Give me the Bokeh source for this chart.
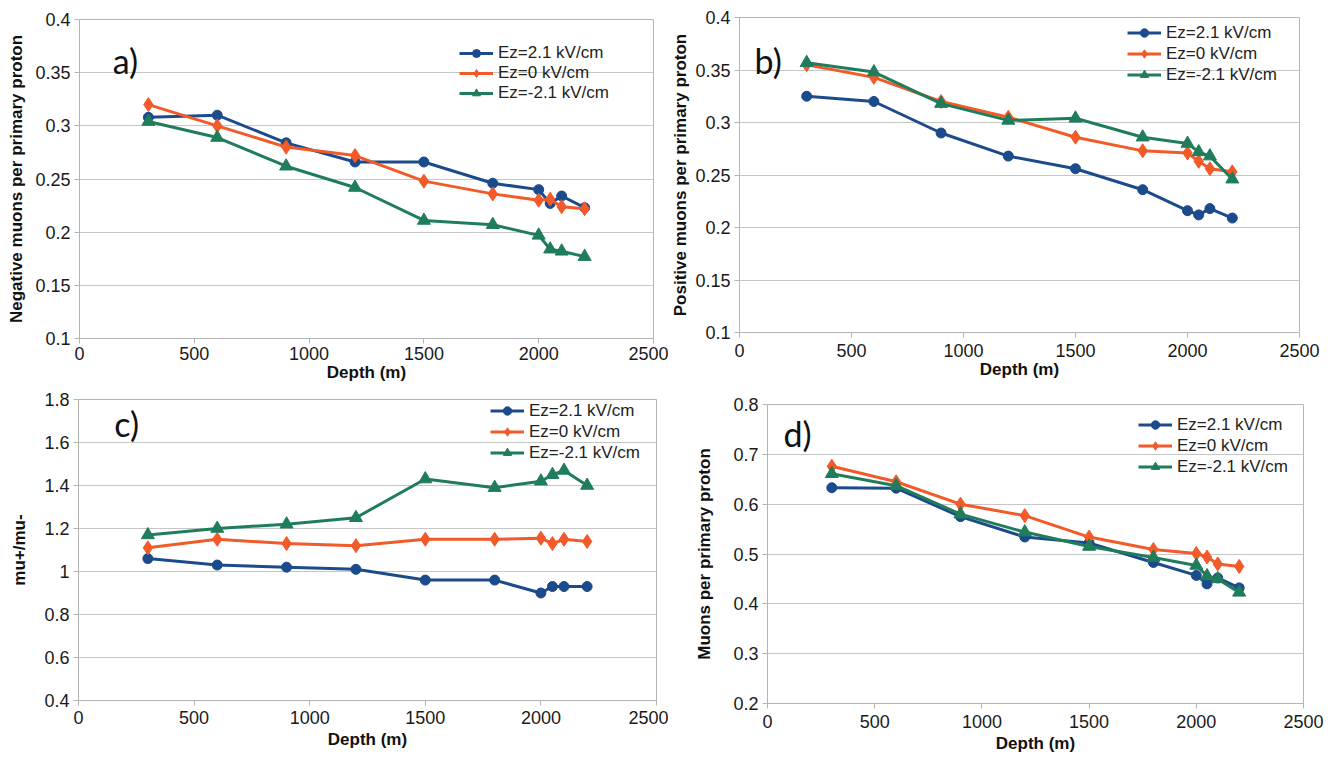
from bokeh.plotting import figure
from bokeh.layouts import column, row
from bokeh.models import (FixedTicker, CustomJSTickFormatter, Legend, LegendItem,
                          Label, Range1d, ColumnDataSource)
from bokeh.embed import file_html
from bokeh.resources import INLINE

# ---------------- data ----------------
depth = [300, 600, 900, 1200, 1500, 1800, 2000, 2050, 2100, 2200]
series_labels = ["Ez=2.1 kV/cm", "Ez=0 kV/cm", "Ez=-2.1 kV/cm"]
x_ticks = [0, 500, 1000, 1500, 2000, 2500]

# a) negative muons per primary proton
neg_ez_pos = [0.308, 0.310, 0.284, 0.266, 0.266, 0.246, 0.240, 0.227, 0.234, 0.223]
neg_ez_zero = [0.320, 0.300, 0.280, 0.272, 0.248, 0.236, 0.230, 0.231, 0.224, 0.222]
neg_ez_neg = [0.304, 0.289, 0.262, 0.242, 0.211, 0.207, 0.197, 0.184, 0.182, 0.177]
neg_ticks = [0.1, 0.15, 0.2, 0.25, 0.3, 0.35, 0.4]

# b) positive muons per primary proton
pos_ez_pos = [0.325, 0.320, 0.290, 0.268, 0.256, 0.236, 0.216, 0.212, 0.218, 0.209]
pos_ez_zero = [0.355, 0.343, 0.320, 0.305, 0.286, 0.273, 0.271, 0.263, 0.256, 0.253]
pos_ez_neg = [0.357, 0.348, 0.318, 0.302, 0.304, 0.286, 0.280, 0.272, 0.268, 0.246]
pos_ticks = [0.1, 0.15, 0.2, 0.25, 0.3, 0.35, 0.4]

# c) mu+/mu- ratio
ratio_ez_pos = [1.06, 1.03, 1.02, 1.01, 0.96, 0.96, 0.90, 0.93, 0.93, 0.93]
ratio_ez_zero = [1.11, 1.15, 1.13, 1.12, 1.15, 1.15, 1.155, 1.13, 1.15, 1.14]
ratio_ez_neg = [1.17, 1.20, 1.22, 1.25, 1.43, 1.39, 1.42, 1.45, 1.47, 1.40]
ratio_ticks = [0.4, 0.6, 0.8, 1.0, 1.2, 1.4, 1.6, 1.8]

# d) all muons per primary proton
tot_ez_pos = [0.633, 0.632, 0.575, 0.534, 0.522, 0.483, 0.457, 0.440, 0.452, 0.432]
tot_ez_zero = [0.676, 0.645, 0.600, 0.577, 0.534, 0.509, 0.501, 0.494, 0.480, 0.475]
tot_ez_neg = [0.661, 0.637, 0.580, 0.544, 0.515, 0.493, 0.477, 0.456, 0.450, 0.423]
tot_ticks = [0.2, 0.3, 0.4, 0.5, 0.6, 0.7, 0.8]

# ---------------- style ----------------
COLORS = ["#1c4b8c", "#f25a29", "#1f7d5c"]
MARKERS = ["circle", "diamond", "triangle"]
MSIZES = [10, 14, 13]
GRID = "#c6c6c6"
AXIS = "#b4b4b4"
FONT = "Liberation Sans"


def make_panel(series, ylabel, yticks, letter, w, h, borders, letter_pos,
               leg_loc, leg_h, y_std, x_std, x_lab_std):
    left, right, top, bottom = borders
    p = figure(width=w, height=h, output_backend="svg", toolbar_location=None,
               x_range=Range1d(0, 2500), y_range=Range1d(yticks[0], yticks[-1]))
    p.min_border_left = left
    p.min_border_right = right
    p.min_border_top = top
    p.min_border_bottom = bottom
    p.background_fill_color = "white"
    p.border_fill_color = "white"
    p.outline_line_color = AXIS
    p.outline_line_width = 1

    p.xgrid.visible = False
    p.ygrid.grid_line_color = GRID
    p.ygrid.grid_line_width = 1
    p.ygrid.ticker = FixedTicker(ticks=yticks)

    p.xaxis.ticker = FixedTicker(ticks=x_ticks)
    p.yaxis.ticker = FixedTicker(ticks=yticks)
    p.yaxis.formatter = CustomJSTickFormatter(
        code="return (Math.round(tick*100)/100).toString();")
    p.xaxis.formatter = CustomJSTickFormatter(code="return Math.round(tick).toString();")
    for ax in (p.xaxis[0], p.yaxis[0]):
        ax.axis_line_color = AXIS
        ax.major_tick_line_color = AXIS
        ax.major_tick_out = 5
        ax.major_tick_in = 0
        ax.minor_tick_line_color = None
        ax.major_label_text_font = FONT
        ax.major_label_text_font_size = "18px"
        ax.major_label_text_color = "#1a1a1a"
        ax.axis_label_text_font = FONT
        ax.axis_label_text_font_style = "bold"
        ax.axis_label_text_font_size = "17px"
        ax.axis_label_text_color = "#111111"
    p.xaxis.major_label_standoff = x_lab_std
    p.yaxis.major_label_standoff = 4
    p.xaxis.axis_label = "Depth (m)"
    p.yaxis.axis_label = ylabel
    p.xaxis.axis_label_standoff = x_std
    p.yaxis.axis_label_standoff = y_std

    items = []
    for vals, lab, col, mk, ms in zip(series, series_labels, COLORS, MARKERS, MSIZES):
        src = ColumnDataSource(dict(x=depth, y=vals))
        lr = p.line("x", "y", source=src, line_color=col, line_width=3)
        mr = p.scatter("x", "y", source=src, marker=mk, size=ms,
                       fill_color=col, line_color=col)
        items.append(LegendItem(label=lab, renderers=[lr, mr]))

    leg = Legend(items=items, location=leg_loc)
    leg.background_fill_alpha = 0
    leg.border_line_alpha = 0
    leg.padding = 0
    leg.margin = 0
    leg.spacing = 0
    leg.glyph_width = 34
    leg.glyph_height = leg_h
    leg.label_height = leg_h
    leg.label_standoff = 5
    leg.label_text_font = FONT
    leg.label_text_font_size = "17px"
    leg.label_text_color = "#222222"
    p.add_layout(leg, "center")

    p.add_layout(Label(x=letter_pos[0], y=letter_pos[1], text=letter,
                       text_font="Lato", text_font_size="34px",
                       text_align="center", text_baseline="middle",
                       text_color="#111111"))
    return p


pa = make_panel([neg_ez_pos, neg_ez_zero, neg_ez_neg],
                "Negative muons per primary proton", neg_ticks, "a)",
                668, 389, (79, 15, 19, 51), (200, 0.361), (380, 235), 20, 6, 0, 3)
pb = make_panel([pos_ez_pos, pos_ez_zero, pos_ez_neg],
                "Positive muons per primary proton", pos_ticks, "b)",
                668, 389, (67, 37, 17, 57), (128, 0.359), (388, 247), 21, 2, 0, 6)
pc = make_panel([ratio_ez_pos, ratio_ez_zero, ratio_ez_neg],
                "mu+/mu-", ratio_ticks, "c)",
                668, 368, (78, 12, 10, 57), (208, 1.688), (412, 237), 21, 12, 3, 5)
pd = make_panel([tot_ez_pos, tot_ez_zero, tot_ez_neg],
                "Muons per primary proton", tot_ticks, "d)",
                668, 368, (99, 33, 15, 54), (140, 0.742), (371, 226), 21, 16, 3, 6)

# each panel wrapped on its own so that the row does not align the plot frames
layout = column(row(column(pa), column(pb)), row(column(pc), column(pd)))
open("out.html", "w").write(file_html(layout, INLINE))
